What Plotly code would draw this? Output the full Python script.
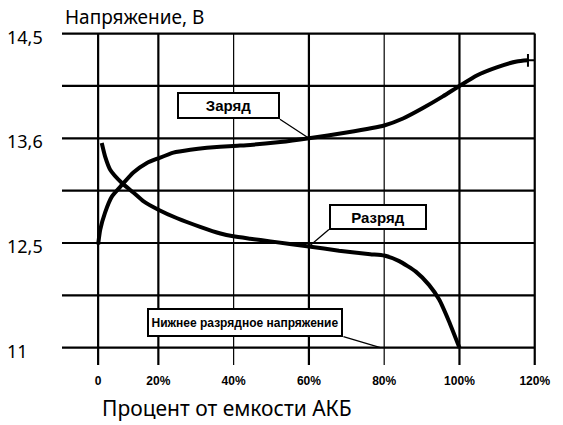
import numpy as np
import plotly.graph_objects as go

# axis ticks as printed on the chart
pct_ticks = [0, 20, 40, 60, 80, 100, 120]
pct_labels = ["0", "20%", "40%", "60%", "80%", "100%", "120%"]
volt_ticks = [11, 12.5, 13.6, 14.5]
volt_labels = ["11", "12,5", "13,6", "14,5"]

# charge curve (% of capacity, volts)
charge_pct = [0, 0.7, 2.3, 4.6, 7.9, 11.7, 16.2, 20, 24, 28.5, 32.9, 39.9, 44.4,
              52.4, 60, 70, 80, 85, 90.3, 95.6, 100, 104.6, 109.9, 115.2, 118.2]
charge_v = [12.48, 12.64, 12.82, 12.99, 13.11, 13.24, 13.34, 13.39, 13.45, 13.48,
            13.50, 13.52, 13.53, 13.56, 13.6, 13.65, 13.71, 13.77, 13.86, 13.96,
            14.05, 14.14, 14.21, 14.26, 14.27]

# discharge curve
discharge_pct = [1.2, 2.3, 4, 7.9, 11.7, 15, 20, 25, 31.1, 36.5, 39.9, 44.4, 49.8,
                 60, 68, 76.3, 80, 84, 88.4, 91.9, 94.6, 97.2, 100]
discharge_v = [13.55, 13.41, 13.27, 13.13, 13.03, 12.94, 12.85, 12.76, 12.67, 12.60,
               12.57, 12.545, 12.517, 12.45, 12.39, 12.34, 12.32, 12.24, 12.09, 11.90,
               11.69, 11.38, 11.0]

# the original grid is drawn evenly, not to scale
x_grid = [0, 0.8, 1.8, 2.8, 3.8, 4.8, 5.8]
x_width = [2.2, 2.2, 1.2, 2.2, 1.2, 2.2, 2.2]
y_grid = [0, 2, 4, 6]
x_min, x_max = -0.48, 5.83
y_min, y_max = -0.33, 6.03


def xpos(p):
    return np.interp(p, pct_ticks, x_grid)


def ypos(v):
    return np.interp(v, volt_ticks, y_grid)


fig = go.Figure()

# grid
for xg, w in zip(x_grid, x_width):
    fig.add_shape(type="line", x0=xg, x1=xg, y0=y_min, y1=6,
                  line=dict(color="black", width=w), layer="below")
for yg in range(7):
    fig.add_shape(type="line", x0=x_min, x1=5.8, y0=yg, y1=yg,
                  line=dict(color="black", width=2.2), layer="below")

fig.add_trace(go.Scatter(
    x=xpos(charge_pct), y=ypos(charge_v), mode="lines",
    line=dict(color="black", width=4, shape="spline", smoothing=0.5),
    showlegend=False, hoverinfo="skip",
))
fig.add_trace(go.Scatter(
    x=xpos(charge_pct[-1:]), y=ypos(charge_v[-1:]), mode="markers",
    marker=dict(symbol="cross-thin", size=9, line=dict(color="black", width=2)),
    showlegend=False, hoverinfo="skip",
))
fig.add_trace(go.Scatter(
    x=xpos(discharge_pct), y=ypos(discharge_v), mode="lines",
    line=dict(color="black", width=4, shape="spline", smoothing=0.5),
    showlegend=False, hoverinfo="skip",
))

box_font = dict(family="Liberation Sans", size=15, color="black", weight="bold")
callout = dict(showarrow=True, arrowhead=0, arrowwidth=1.3, arrowcolor="black",
               axref="pixel", ayref="pixel", bgcolor="white",
               bordercolor="black", borderwidth=2, borderpad=1)

fig.add_annotation(
    x=xpos(60), y=ypos(np.interp(60, charge_pct, charge_v)),
    ax=-29, ay=-19, xanchor="right", yanchor="bottom",
    text="Заряд", font=box_font, width=97, height=21, **callout,
)
fig.add_annotation(
    x=xpos(60), y=ypos(np.interp(60, discharge_pct, discharge_v)),
    ax=20, ay=-17, xanchor="left", yanchor="bottom",
    text="Разряд", font=box_font, width=92, height=20, **callout,
)
fig.add_annotation(
    x=xpos(79), y=ypos(11),
    ax=-37, ay=-11, xanchor="right", yanchor="bottom",
    text="Нижнее разрядное напряжение",
    font=dict(family="Liberation Sans", size=12, color="black", weight="bold"),
    width=190, height=23, **callout,
)

hand = dict(family="Noto Sans", color="black")
for v, lab in zip(volt_ticks, volt_labels):
    fig.add_annotation(x=-0.12, xref="paper", y=ypos(v), yshift=-3,
                       text=lab, showarrow=False, xanchor="left", yanchor="middle",
                       font=dict(size=18, **hand))
fig.add_annotation(x=0.002, xref="paper", y=1.045, yref="paper",
                   text="Напряжение, В", showarrow=False,
                   xanchor="left", yanchor="middle",
                   font=dict(size=19, **hand))
fig.add_annotation(x=0.08, xref="paper", y=-0.13, yref="paper",
                   text="Процент от емкости АКБ", showarrow=False,
                   xanchor="left", yanchor="middle",
                   font=dict(size=21, **hand))

fig.update_layout(
    width=563, height=425,
    margin=dict(l=62, r=26, t=32, b=60),
    plot_bgcolor="white", paper_bgcolor="white",
    xaxis=dict(range=[x_min, x_max], showgrid=False, zeroline=False,
               tickvals=x_grid, ticktext=pct_labels, ticks="",
               ticklabelstandoff=7,
               tickfont=dict(family="Liberation Sans", size=12, color="black",
                             weight="bold")),
    yaxis=dict(range=[y_min, y_max], showgrid=False, zeroline=False,
               showticklabels=False),
)

# drop the default page margin so the figure fills the window
fig.write_html("out.html", config={"displayModeBar": False},
               post_script="document.body.style.margin='0';"
                           "document.body.style.overflow='hidden';")
